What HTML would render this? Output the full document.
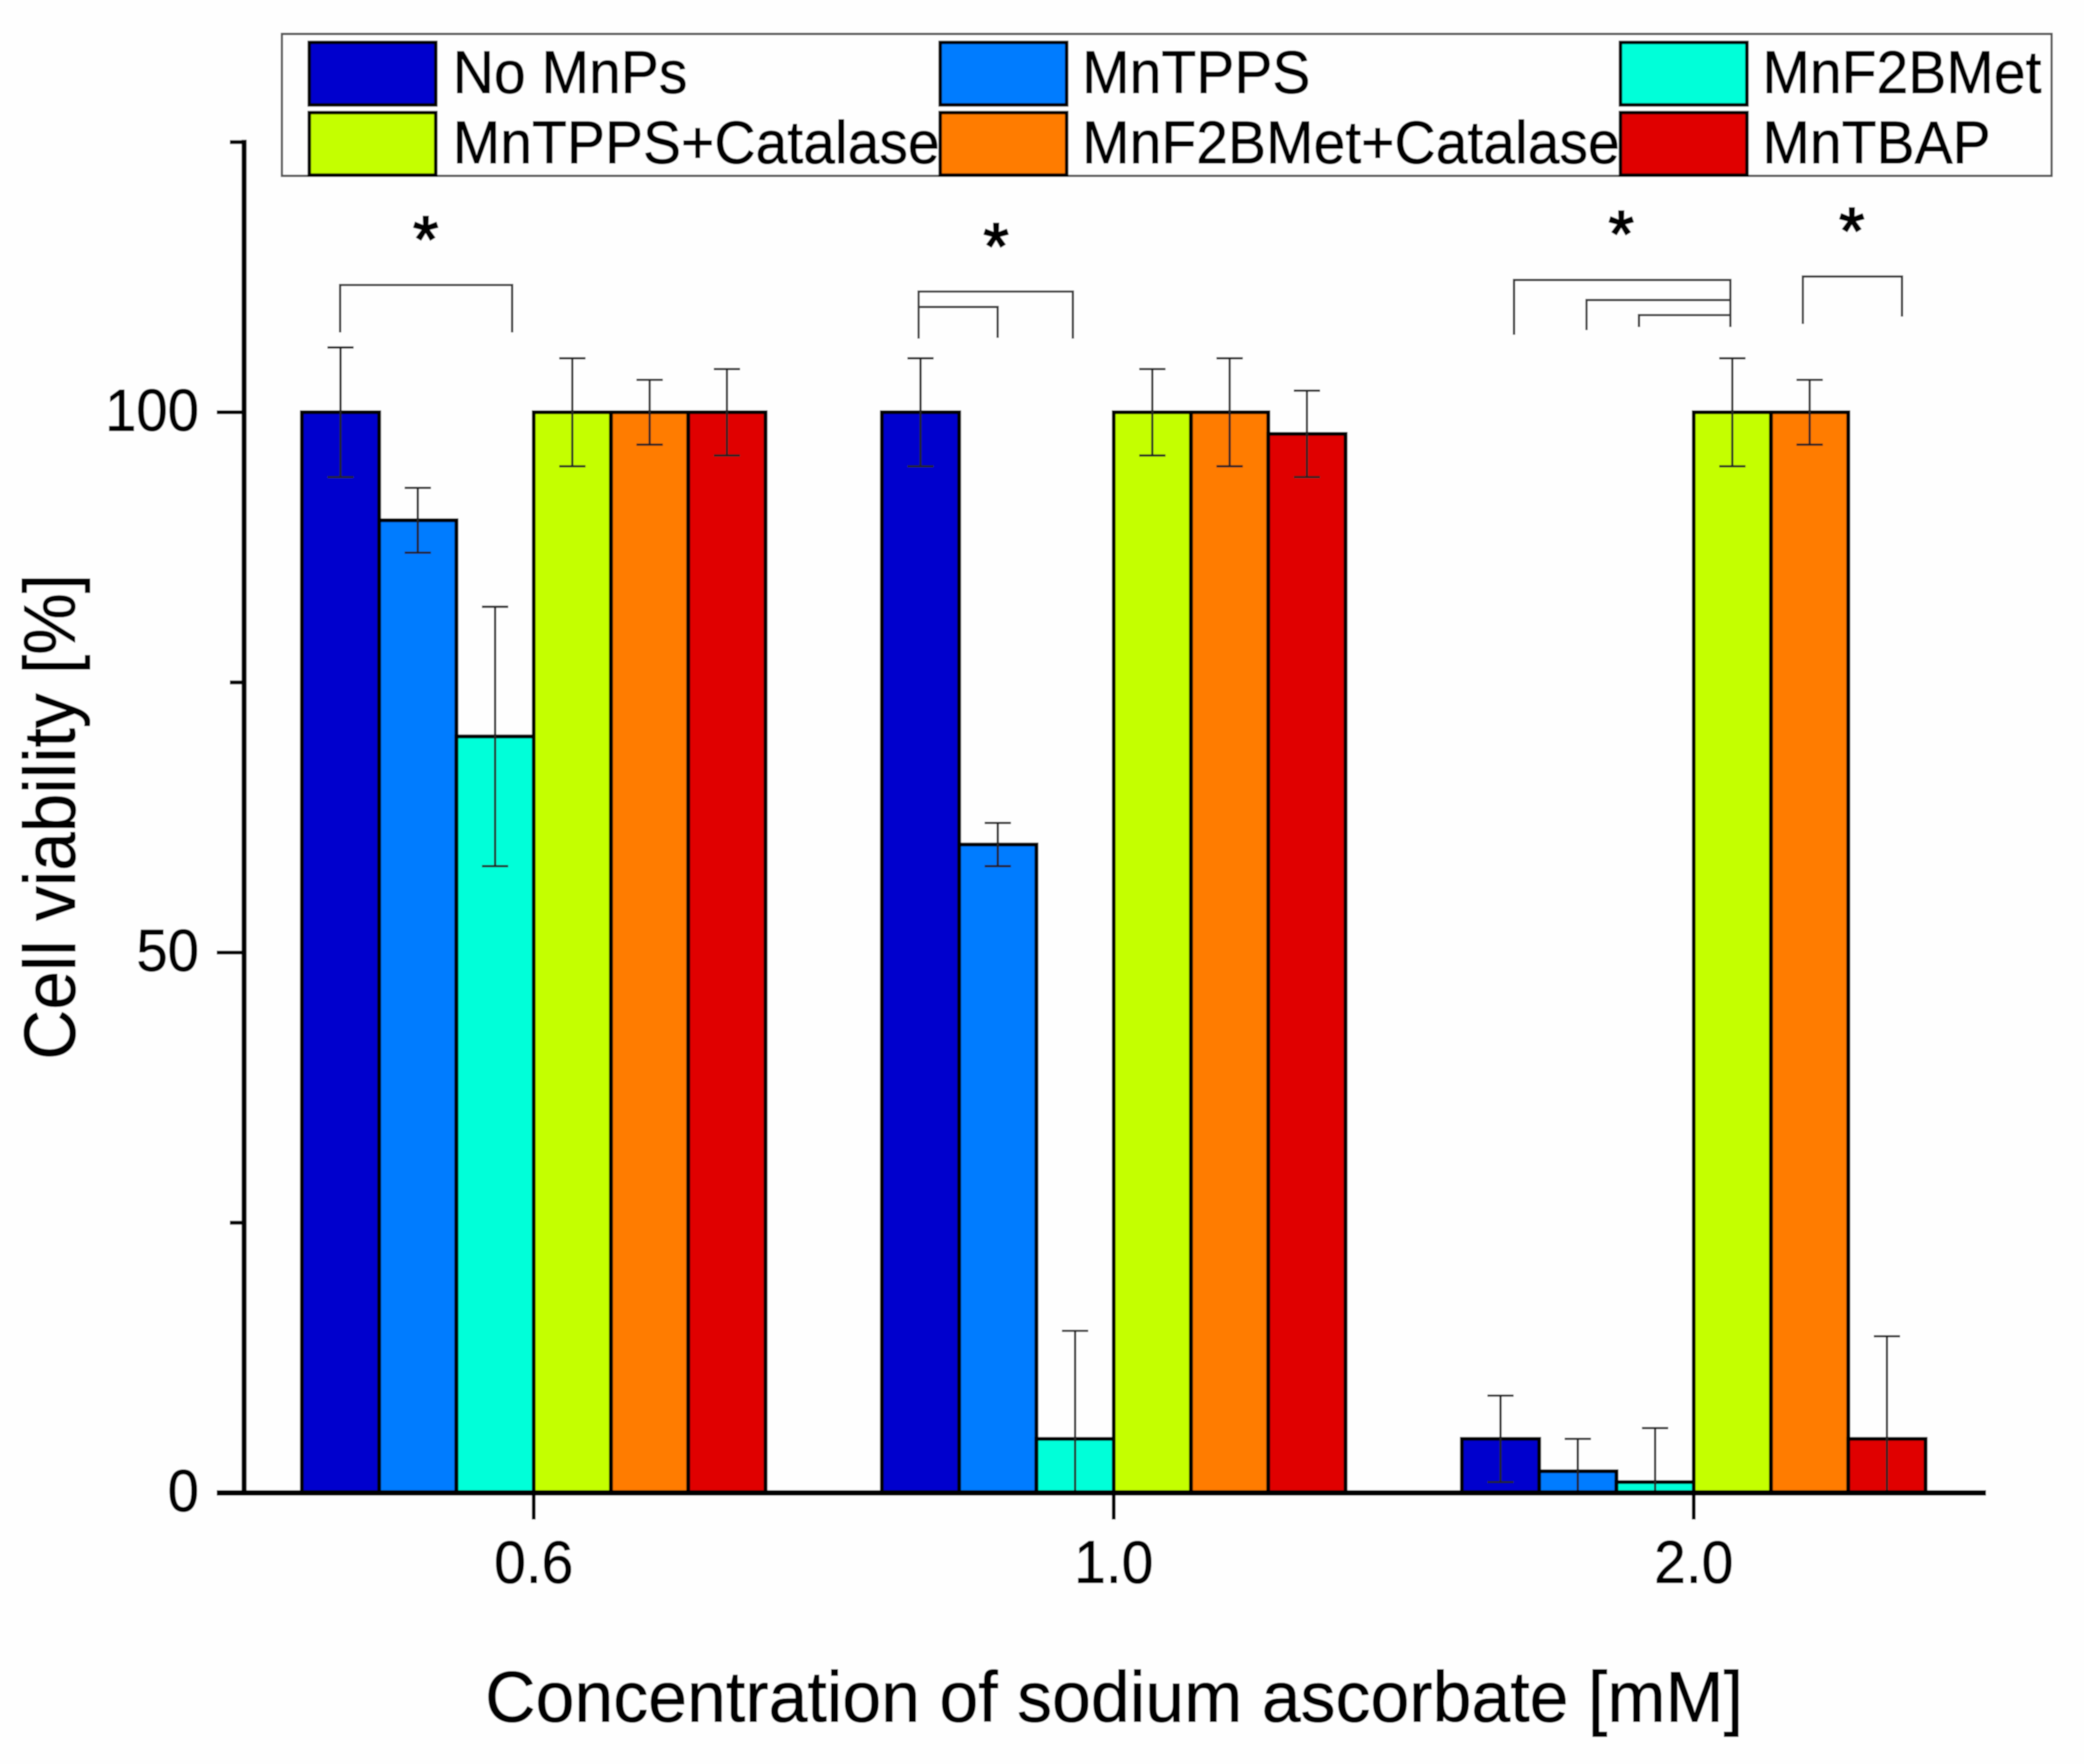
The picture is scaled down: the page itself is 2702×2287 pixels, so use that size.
<!DOCTYPE html>
<html lang="en">
<head>
<meta charset="utf-8">
<title>Cell viability bar chart</title>
<style>
  html, body { margin: 0; padding: 0; background: #fefefe; }
  body { width: 2702px; height: 2287px; overflow: hidden; }
  svg { display: block; }
  text { font-family: "Liberation Sans", Arial, sans-serif; fill: #000; stroke: #000; stroke-width: 0.9px; }
</style>
</head>
<body>
<svg id="chart" xmlns="http://www.w3.org/2000/svg" width="2702" height="2287" viewBox="0 0 2702 2287">
  <defs>
    <filter id="soften" x="0" y="0" width="100%" height="100%" filterUnits="objectBoundingBox">
      <feGaussianBlur stdDeviation="0.7"/>
    </filter>
  </defs>
  <rect x="0" y="0" width="2702" height="2287" fill="#fefefe"/>

  <g filter="url(#soften)">
    <rect x="0" y="0" width="2702" height="2287" fill="#fefefe"/>
    <g id="bars"></g>
    <g id="errors"></g>
    <g id="axes"></g>

    <g fill="none" stroke="#3a3a3a" stroke-width="3">
      <path d="M441 431V369.5H664V431"/>
      <path d="M1191 439V378H1391V439"/>
      <path d="M1191 439V398H1293.5V438"/>
      <path d="M1963 434V363H2243.5V424"/>
      <path d="M2057 428V389H2243.5"/>
      <path d="M2125 424V408.5H2243.5"/>
      <path d="M2337.5 420V358.5H2466V410.5"/>
    </g>
    <g font-size="84" text-anchor="middle" style="stroke-width:0">
      <text x="552" y="339" style="stroke-width:2.4px">*</text>
      <text x="1291.5" y="348" style="stroke-width:2.4px">*</text>
      <text x="2102" y="332" style="stroke-width:2.4px">*</text>
      <text x="2401" y="328" style="stroke-width:2.4px">*</text>
    </g>

    <text font-size="90" text-anchor="middle" transform="translate(97 1059) rotate(-90) scale(1 1.05)">Cell viability [%]</text>
    <text font-size="88" textLength="1631" lengthAdjust="spacingAndGlyphs" transform="translate(629 2232) scale(1 1.05)">Concentration of sodium ascorbate [mM]</text>

    <g id="legend">
      <rect x="365.5" y="44" width="2294.5" height="184" fill="#fefefe" stroke="#555" stroke-width="3"/>
    </g>
  </g>
</svg>

<script>
// ---- Chart data ----
const categories = ['0.6', '1.0', '2.0'];
const seriesNames = ['No MnPs', 'MnTPPS', 'MnF2BMet', 'MnTPPS+Catalase', 'MnF2BMet+Catalase', 'MnTBAP'];

const noMnPs          = [100, 100, 5];
const mnTPPS          = [90, 60, 2];
const mnF2BMet        = [70, 5, 1];
const mnTPPSCatalase  = [100, 100, 100];
const mnF2BMetCatalase = [100, 100, 100];
const mnTBAP          = [100, 98, 5];

const noMnPsErr          = [6, 5, 4];
const mnTPPSErr          = [3, 2, 3];
const mnF2BMetErr        = [12, 10, 5];
const mnTPPSCatalaseErr  = [5, 4, 5];
const mnF2BMetCatalaseErr = [3, 5, 3];
const mnTBAPErr          = [4, 4, 9.5];

const yMajorTicks = [0, 50, 100];
const yMinorTicks = [25, 75, 125];

const seriesValues = [noMnPs, mnTPPS, mnF2BMet, mnTPPSCatalase, mnF2BMetCatalase, mnTBAP];
const seriesErrors = [noMnPsErr, mnTPPSErr, mnF2BMetErr, mnTPPSCatalaseErr, mnF2BMetCatalaseErr, mnTBAPErr];
const seriesSlugs = ['no-mnps', 'mntpps', 'mnf2bmet', 'mntpps-catalase', 'mnf2bmet-catalase', 'mntbap'];

// ---- Styling & layout (not data) ----
const seriesColors = ['#0000cd', '#007bff', '#00ffd9', '#c4ff00', '#ff7b00', '#e00000'];
const NS = 'http://www.w3.org/2000/svg';
const Y_ZERO = 1935.5, Y_UNIT = 14.01;
const X_FIRST = 692, X_STEP = 752, BAR_W = 100.2, CAP_HALF = 17;

function yScale(v) { return Y_ZERO - v * Y_UNIT; }
function xCenter(groupIndex) { return X_FIRST + groupIndex * X_STEP; }
function xBarLeft(groupIndex, seriesIndex) { return xCenter(groupIndex) + (seriesIndex - 3) * BAR_W; }

function make(tag, attrs, parent) {
  const el = document.createElementNS(NS, tag);
  for (const k in attrs) el.setAttribute(k, attrs[k]);
  parent.appendChild(el);
  return el;
}

const barsG = document.getElementById('bars');
const errorsG = document.getElementById('errors');
const axesG = document.getElementById('axes');
const legendG = document.getElementById('legend');

// Bars and error bars
seriesValues.forEach(function (values, s) {
  values.forEach(function (v, g) {
    const left = xBarLeft(g, s);
    const bar = make('rect', { x: left, y: yScale(v), width: BAR_W, height: yScale(0) - yScale(v), fill: seriesColors[s], stroke: '#000', 'stroke-width': 5 }, barsG);
    
    

    const cx = left + BAR_W / 2;
    const e = seriesErrors[s][g];
    const topY = yScale(v + e);
    const low = v - e;
    const botY = yScale(Math.max(low, 0));
    const grp = make('g', { stroke: '#222', 'stroke-width': 2.8, fill: 'none' }, errorsG);
    
    
    make('line', { x1: cx, x2: cx, y1: topY, y2: botY }, grp);
    make('line', { x1: cx - CAP_HALF, x2: cx + CAP_HALF, y1: topY, y2: topY }, grp);
    if (low > 0) {
      make('line', { x1: cx - CAP_HALF, x2: cx + CAP_HALF, y1: botY, y2: botY }, grp);
    }
  });
});

// Y axis
const yLine = make('line', { x1: 316.5, x2: 316.5, y1: yScale(125) - 3, y2: yScale(0) + 3, stroke: '#000', 'stroke-width': 6.5 }, axesG);



yMajorTicks.forEach(function (t) {
  const tick = make('line', { x1: 281, x2: 316, y1: yScale(t), y2: yScale(t), stroke: '#000', 'stroke-width': 5 }, axesG);
  
  
  const label = make('text', { 'font-size': 73, 'text-anchor': 'end', transform: 'translate(258 ' + (yScale(t) + 24) + ') scale(1 1.05)' }, axesG);
  
  
  label.textContent = String(t);
});
yMinorTicks.forEach(function (t) {
  const tick = make('line', { x1: 298, x2: 316, y1: yScale(t), y2: yScale(t), stroke: '#000', 'stroke-width': 5 }, axesG);
  
  
});

// X axis
const xLine = make('line', { x1: 281, x2: 2575, y1: yScale(0), y2: yScale(0), stroke: '#000', 'stroke-width': 7 }, axesG);



categories.forEach(function (c, g) {
  const x = xCenter(g);
  const tick = make('line', { x1: x, x2: x, y1: yScale(0), y2: yScale(0) + 34.5, stroke: '#000', 'stroke-width': 5 }, axesG);
  
  
  const label = make('text', { 'font-size': 74, 'text-anchor': 'middle', transform: 'translate(' + x + ' 2052) scale(1 1.05)' }, axesG);
  
  
  label.textContent = c;
});

// Legend
const legendColX = [401, 1219, 2101];
const legendSwatchW = [164, 164, 164];
const legendTextX = [587, 1403, 2285];
const legendRowY = [55, 146];
const legendBaseY = [120.5, 211.5];
seriesNames.forEach(function (name, s) {
  const col = s % 3;
  const row = Math.floor(s / 3);
  const entry = make('g', {}, legendG);
  
  
  make('rect', { x: legendColX[col], y: legendRowY[row], width: legendSwatchW[col], height: 81, fill: seriesColors[s], stroke: '#000', 'stroke-width': 4.5 }, entry);
  const label = make('text', { 'font-size': 74, transform: 'translate(' + legendTextX[col] + ' ' + legendBaseY[row] + ') scale(1 1.05)' }, entry);
  label.textContent = name;
});
</script>
</body>
</html>
